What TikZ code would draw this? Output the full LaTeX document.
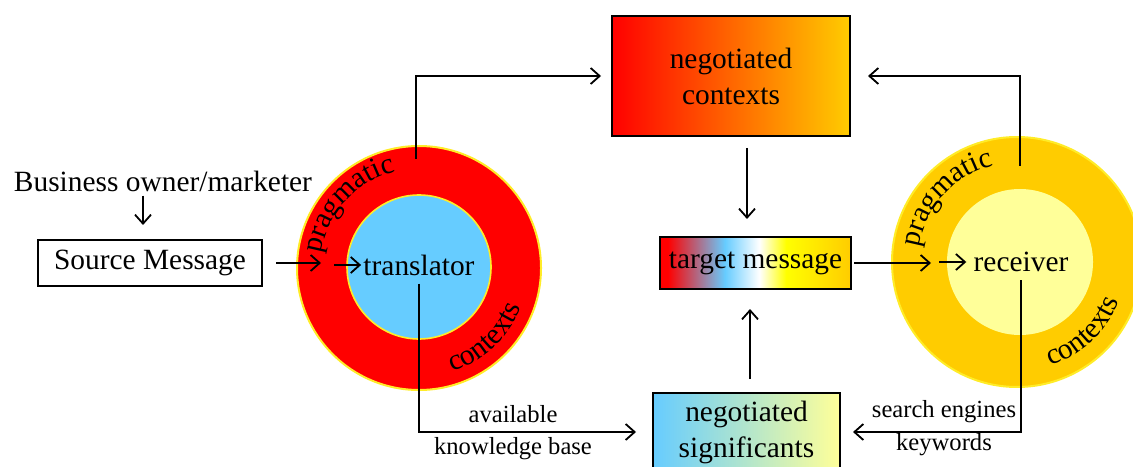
\documentclass[tikz,border=0pt]{standalone}
\usepackage{fontspec}
\setmainfont{Liberation Serif}
\usetikzlibrary{arrows.meta,decorations.text}

\definecolor{skyb}{RGB}{102,204,255}
\definecolor{gold}{RGB}{255,204,0}
\definecolor{paleyellow}{RGB}{255,255,153}
\definecolor{ringedge}{RGB}{255,236,40}

% red - blue - white - yellow bar for the target message
\pgfdeclarehorizontalshading{targetshade}{100bp}{color(0bp)=(red); color(27bp)=(red); color(42bp)=(skyb); color(51bp)=(white); color(58bp)=(yellow); color(75bp)=(gold); color(100bp)=(gold)}

\newcommand{\mainsize}{\fontsize{14.7}{18}\selectfont}
\newcommand{\smallsize}{\fontsize{12.3}{16}\selectfont}

\begin{document}
\begin{tikzpicture}[x=0.5pt, y=0.5pt,
    arr/.style={line width=0.9pt, -{Straight Barb[length=4.5pt,width=8pt]}},
    ring/.style={circle, draw=ringedge, line width=1pt, inner sep=0pt},
    core/.style={circle, draw=ringedge, line width=0.8pt, inner sep=0pt},
    box/.style={draw=black, line width=1pt, inner sep=0pt, align=center, font=\mainsize},
    txt/.style={inner sep=0pt, font=\mainsize},
    lbl/.style={inner sep=0pt, font=\smallsize},
]
\useasboundingbox (0,0) rectangle (1133,466);

% Translator rings
\node[ring, fill=red, minimum size=122pt] (tring) at (419,198) {};
\node[core, fill=skyb, minimum size=72pt] (tcore) at (419,199) {};
\node[txt] (translator) at (419,201) {translator};

% Receiver rings
\node[ring, fill=gold, minimum size=125pt] (rring) at (1017,204) {};
\node[core, draw=none, fill=paleyellow, minimum size=73pt] (rcore) at (1020,204) {};
\node[txt] (receiver) at (1021,204) {receiver};

% Ring labels
\foreach \c in {tring, rring} {
    \path[decorate, decoration={text along path, text={|\mainsize|pragmatic}, text align=center}]
        (\c.center) ++(175:99) arc[start angle=175, end angle=100, radius=99];
    \path[decorate, decoration={text along path, text={|\mainsize|contexts}, text align=center}]
        (\c.center) ++(-74:109) arc[start angle=-74, end angle=-19, radius=109];
}

% Boxes
\node[txt] (biz) at (163,285) {Business owner/marketer};
\node[box, minimum width=112pt, minimum height=23pt] (source) at (150,203) {Source Message};
\node[box, minimum width=119pt, minimum height=60pt, left color=red, right color=gold] (ctx) at (731,390) {negotiated\\contexts};
\node[box, minimum width=95.5pt, minimum height=26pt, shading=targetshade] (target) at (755.5,203) {target message};
\node[box, minimum width=93.5pt, minimum height=39pt, left color=skyb, right color=paleyellow] (sigbox) at (746.5,34) {negotiated\\significants};

% Edge labels
\node[lbl] (avail) at (513,52) {available};
\node[lbl] (know) at (513,17) {knowledge base};
\node[lbl] (search) at (944,54) {search engines};
\node[lbl] (keys) at (944,21) {keywords};

% Connectors
\draw[arr] ([xshift=-10pt,yshift=-2pt]biz.south) -- ([xshift=-3.5pt,yshift=7pt]source.north);
\draw[arr] ([xshift=6.5pt]source.east) -- ([xshift=12.5pt]tring.west |- source.east);
\draw[arr, shorten >=1pt] ([xshift=-14.5pt]translator.west) -- (translator.west);
\draw[arr, shorten >=5pt] ([xshift=-1.5pt,yshift=-7pt]tring.north) |- (ctx.west);
\draw[arr, shorten >=8pt] ([yshift=-4pt]translator.south) |- (sigbox.west);
\draw[arr] ([xshift=8pt,yshift=-5.5pt]ctx.south) -- ([xshift=-4.25pt,yshift=8.5pt]target.north);
\draw[arr] ([xshift=1pt]target.east) -- ([xshift=20pt]rring.west |- target.east);
\draw[arr, shorten >=3.5pt] ([xshift=-17pt]receiver.west) -- (receiver.west);
\draw[arr, shorten >=8.5pt] ([xshift=1.5pt,yshift=-15pt]rring.north) |- (ctx.east);
\draw[arr, shorten >=6pt] ([yshift=-4pt]receiver.south) |- (sigbox.east);
\draw[arr] ([xshift=1.75pt,yshift=6.5pt]sigbox.north) -- ([xshift=-2.75pt,yshift=-9.5pt]target.south);

\end{tikzpicture}
\end{document}
